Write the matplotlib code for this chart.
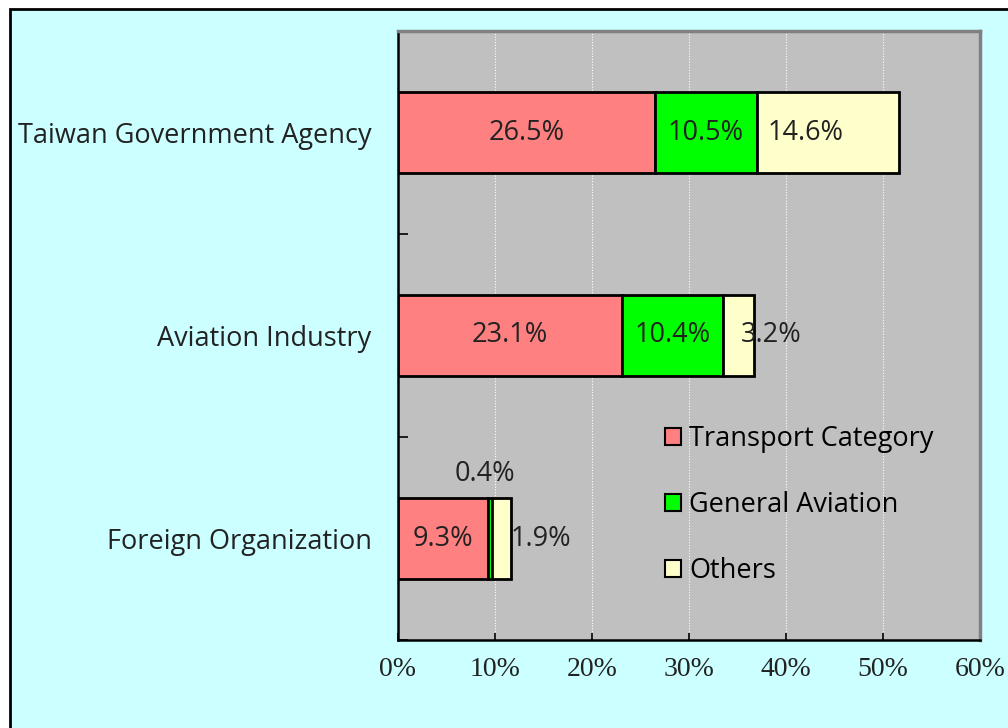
import numpy as np
import matplotlib
matplotlib.use("Agg")
from matplotlib import pyplot as plt
from matplotlib.patches import Rectangle

categories = ["Taiwan Government Agency", "Aviation Industry", "Foreign Organization"]
series_names = ["Transport Category", "General Aviation", "Others"]
transport = [26.5, 23.1, 9.3]
general = [10.5, 10.4, 0.4]
others = [14.6, 3.2, 1.9]
colors = ["#FF8080", "#00FF00", "#FFFFCC"]
xticks = [0, 10, 20, 30, 40, 50, 60]

plt.rcParams['font.family'] = ['Open Sans', 'DejaVu Sans']
FS = 19.5

fig = plt.figure(figsize=(10.08, 7.28), dpi=100)
fig.patch.set_facecolor("white")
# cyan panel with black border on the left and top
fig.patches.append(Rectangle((10 / 1008, -0.02), 1.05, 1 - 9 / 728 + 0.02,
                             transform=fig.transFigure, facecolor="#CCFFFF",
                             edgecolor="black", linewidth=2, zorder=-10))

ax = fig.add_axes([398 / 1008, 1 - 640 / 728, 582 / 1008, 609 / 728])
ax.set_facecolor("#C0C0C0")

y = np.arange(len(categories))
left = np.zeros(len(categories))
for vals, name, c in zip([transport, general, others], series_names, colors):
    ax.barh(y, vals, left=left, height=0.4, color=c, edgecolor="black",
            linewidth=2, label=name, zorder=3)
    left = left + np.array(vals)

lab_kw = dict(fontsize=FS, color="#222222", va="center", zorder=5)
# transport labels, centered
for i, v in enumerate(transport):
    ax.text(v / 2, i, f"{v}%", ha="center", **lab_kw)
# general aviation labels (tiny one goes above the bar)
for i, v in enumerate(general):
    start = transport[i]
    if v < 1:
        ax.text(start + v / 2 - 0.5, i - 0.32, f"{v}%", ha="center", **lab_kw)
    else:
        ax.text(start + v / 2, i, f"{v}%", ha="center", **lab_kw)
# others labels
for i, v in enumerate(others):
    start = transport[i] + general[i]
    ax.text(start + 5, i, f"{v}%", ha="center", **lab_kw)

ax.set_xlim(0, 60)
ax.set_ylim(2.5, -0.5)
ax.set_xticks(xticks)
ax.set_xticklabels([f"{t}%" for t in xticks], family="Liberation Serif",
                   fontsize=20, color="#222222")
ax.set_yticks(y)
ax.set_yticklabels(categories, fontsize=FS, color="#222222")
ax.set_yticks([-0.5, 0.5, 1.5, 2.5], minor=True)
ax.tick_params(axis="y", which="major", length=0, pad=19)
ax.tick_params(axis="y", which="minor", direction="in", length=7, width=1.2, color="black")
ax.tick_params(axis="x", direction="in", length=5, width=1.2, color="black", pad=12)

ax.grid(axis="x", color="white", linestyle=(0, (1, 1.5)), linewidth=0.8, zorder=1)
ax.set_axisbelow(True)

for s in ["left", "bottom"]:
    ax.spines[s].set_color("black")
    ax.spines[s].set_linewidth(1.8)
for s in ["top", "right"]:
    ax.spines[s].set_color("#808080")
    ax.spines[s].set_linewidth(2.5)

leg = ax.legend(loc="upper left", bbox_to_anchor=(0.435, 0.375), frameon=False,
                fontsize=FS, handlelength=0.6, handleheight=0.6, handletextpad=0.3,
                labelspacing=1.4, borderpad=0)
for h in leg.legend_handles:
    h.set_linewidth(1.5)

fig.savefig("out.png", dpi=100, facecolor=fig.get_facecolor())
